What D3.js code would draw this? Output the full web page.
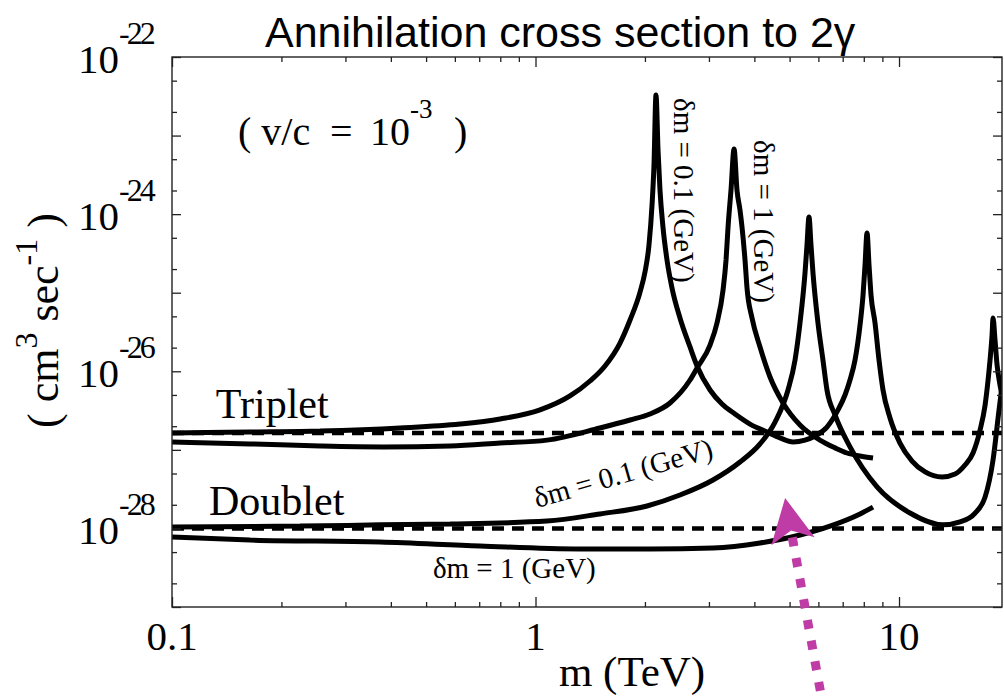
<!DOCTYPE html>
<html>
<head>
<meta charset="utf-8">
<script src="https://cdn.jsdelivr.net/npm/d3@7"></script>
<style>
  html, body { margin: 0; padding: 0; background: #ffffff; }
  svg { display: block; }
  text { white-space: pre; }
</style>
</head>
<body>
<svg id="chart" width="1004" height="697"></svg>
<script>
// ---- Data: annihilation cross section σv (cm^3/s) versus mass m (TeV) ----

// Triplet, δm = 0.1 GeV
const tripletDm01Mass = [0.1, 0.164, 0.2555, 0.424, 0.620, 0.799, 1.029, 1.244, 1.412, 1.553,
  1.708, 1.820, 1.939, 2.001, 2.052, 2.092, 2.118, 2.145, 2.173, 2.200,
  2.242, 2.300, 2.374, 2.497, 2.661, 2.782, 3.021, 3.259, 3.538, 3.891,
  4.334, 4.706, 5.110, 5.513, 5.873, 6.336, 6.795, 7.103, 7.331, 7.568,
  7.812, 7.962, 8.063, 8.166, 8.270, 8.375, 8.590, 8.810, 9.036, 9.446,
  10.06, 10.86, 11.80, 13.13, 14.26, 15.19, 15.98, 16.71, 17.25, 17.58,
  17.80, 18.03, 18.14, 18.37, 18.61, 18.96, 19.33];
const tripletDm01SigmaV = [1.64e-27, 1.69e-27, 1.74e-27, 1.90e-27, 2.13e-27, 2.47e-27, 3.22e-27, 4.85e-27, 7.52e-27, 1.17e-26,
  2.29e-26, 4.50e-26, 1.02e-25, 1.84e-25, 4.05e-25, 1.31e-24, 4.22e-24, 3.28e-23, 6.55e-24, 2.03e-24,
  6.86e-25, 2.61e-25, 1.15e-25, 4.77e-26, 2.04e-26, 1.17e-26, 5.78e-27, 3.83e-27, 2.86e-27, 2.13e-27,
  1.69e-27, 1.42e-27, 1.26e-27, 1.33e-27, 1.50e-27, 1.95e-27, 3.22e-27, 4.99e-27, 7.74e-27, 1.39e-26,
  3.88e-26, 9.35e-26, 2.25e-25, 5.75e-25, 2.25e-25, 9.35e-26, 4.12e-26, 1.39e-26, 5.78e-27, 2.54e-27,
  1.22e-27, 7.21e-28, 5.23e-28, 4.51e-28, 4.93e-28, 6.42e-28, 9.12e-28, 1.79e-27, 3.72e-27, 7.74e-27,
  1.39e-26, 2.90e-26, 4.77e-26, 2.50e-26, 1.20e-26, 6.69e-27, 4.31e-27];

// Triplet, δm = 1 GeV
const tripletDm1Mass = [0.1, 0.164, 0.2555, 0.3806, 0.582, 0.799, 1.0755, 1.504, 1.820, 2.065,
  2.344, 2.661, 2.782, 3.021, 3.157, 3.280, 3.343, 3.386, 3.450, 3.517,
  3.583, 3.652, 3.699, 3.770, 3.818, 3.941, 4.146, 4.417, 4.796, 5.341,
  6.061, 6.667, 7.193, 7.812, 8.482];
const tripletDm1SigmaV = [1.26e-27, 1.19e-27, 1.12e-27, 1.09e-27, 1.12e-27, 1.22e-27, 1.33e-27, 1.90e-27, 2.40e-27, 2.86e-27,
  3.95e-27, 7.74e-27, 1.10e-26, 2.16e-26, 4.12e-26, 1.08e-25, 2.61e-25, 6.86e-25, 2.03e-24, 6.75e-24,
  2.03e-24, 1.13e-24, 6.86e-25, 2.61e-25, 1.15e-25, 4.77e-26, 2.04e-26, 8.46e-27, 3.95e-27, 2.07e-27,
  1.33e-27, 1.06e-27, 9.12e-28, 8.35e-28, 7.88e-28];

// Doublet, δm = 0.1 GeV
const doubletDm01Mass = [0.1, 0.225, 0.3735, 0.582, 1.0755, 1.504, 2.027, 2.497, 3.078, 3.652,
  4.146, 4.560, 4.950, 5.175, 5.341, 5.513, 5.583, 5.654, 5.726, 5.799,
  5.985, 6.177, 6.336, 6.667, 7.331, 8.700, 10.72, 13.21, 14.72, 16.19,
  17.25, 18.14, 18.84, 19.45];
const doubletDm01SigmaV = [1.04e-28, 1.07e-28, 1.11e-28, 1.14e-28, 1.24e-28, 1.53e-28, 1.93e-28, 2.66e-28, 4.13e-28, 7.00e-28,
  1.19e-27, 2.26e-27, 5.78e-27, 1.39e-26, 4.12e-26, 1.78e-25, 4.05e-25, 9.20e-25, 4.05e-25, 1.78e-25,
  4.12e-26, 1.39e-26, 5.78e-27, 2.78e-27, 1.09e-27, 3.37e-28, 1.57e-28, 1.11e-28, 1.21e-28, 1.57e-28,
  2.51e-28, 7.43e-28, 3.22e-27, 1.04e-26];

// Doublet, δm = 1 GeV
const doubletDm1Mass = [0.1, 0.164, 0.3735, 0.7037, 1.326, 2.065, 3.078, 4.146, 5.341, 6.458, 7.812, 8.482];
const doubletDm1SigmaV = [7.78e-29, 7.12e-29, 6.72e-29, 5.97e-29, 5.47e-29, 5.47e-29, 5.63e-29, 6.52e-29, 8.25e-29, 1.07e-28, 1.53e-28, 1.87e-28];

// Perturbative (no enhancement) values, drawn dashed
const tripletTreeSigmaV = 1.64e-27;
const doubletTreeSigmaV = 1.0e-28;

// Axes
const massDomain = [0.1, 19.2];
const sigmaDomain = [1e-29, 1e-22];
const xTickValues = [0.1, 1, 10];
const xTickLabels = ["0.1", "1", "10"];
const yLabelExponents = ["-22", "-24", "-26", "-28"];

// Curve labels, placed at (m, σv)
const curveLabels = [
  { text: "δm = 0.1 (GeV)", m: 2.40, sv: 3.01e-23, angle: 90 },
  { text: "δm = 1 (GeV)",   m: 3.99, sv: 8.78e-24, angle: 90 },
  { text: "δm = 0.1 (GeV)", m: 1.01, sv: 1.82e-28, angle: -16 },
  { text: "δm = 1 (GeV)",   m: 0.522, sv: 2.34e-29, angle: 0 }
];
const groupLabels = [
  { text: "Triplet", m: 0.132, sv: 2.54e-27 },
  { text: "Doublet", m: 0.1264, sv: 1.48e-28 }
];
// Highlight arrow: tip and tail (m, σv)
const arrowTip = [4.86, 2.44e-28];
const arrowTail = [6.14, 6.55e-31];

// ---- Drawing ----
const serif = "'Liberation Serif', 'Times New Roman', Times, serif";
const sans = "'Liberation Sans', Arial, Helvetica, sans-serif";
const frame = { left: 172, top: 57, right: 1002, bottom: 607 };

const svg = d3.select("#chart");
const x = d3.scaleLog().domain(massDomain).range([frame.left, frame.right]);
const y = d3.scaleLog().domain(sigmaDomain).range([frame.bottom, frame.top]);

svg.append("defs").append("clipPath").attr("id", "plot-clip")
  .append("rect")
  .attr("x", frame.left).attr("y", frame.top)
  .attr("width", frame.right - frame.left).attr("height", frame.bottom - frame.top);

const plot = svg.append("g").attr("clip-path", "url(#plot-clip)");

// dashed reference levels
const flat = d3.line().x(d => x(d[0])).y(d => y(d[1]));
[tripletTreeSigmaV, doubletTreeSigmaV].forEach(v => {
  plot.append("path")
    .attr("d", flat([[massDomain[0], v], [massDomain[1], v]]))
    .attr("fill", "none").attr("stroke", "#000")
    .attr("stroke-width", 4.5).attr("stroke-dasharray", "12 8");
});

// enhanced cross-section curves
const curve = d3.line().x(d => x(d[0])).y(d => y(d[1])).curve(d3.curveMonotoneX);
const series = [
  [tripletDm01Mass, tripletDm01SigmaV],
  [tripletDm1Mass, tripletDm1SigmaV],
  [doubletDm01Mass, doubletDm01SigmaV],
  [doubletDm1Mass, doubletDm1SigmaV]
];
series.forEach(([m, sv]) => {
  plot.append("path")
    .attr("d", curve(d3.zip(m, sv)))
    .attr("fill", "none").attr("stroke", "#000")
    .attr("stroke-width", 5)
    .attr("stroke-linejoin", "bevel");
});

// frame
svg.append("rect")
  .attr("x", frame.left).attr("y", frame.top)
  .attr("width", frame.right - frame.left).attr("height", frame.bottom - frame.top)
  .attr("fill", "none").attr("stroke", "#222").attr("stroke-width", 1.4);

// ticks (all pointing into the frame)
const isDecade = v => Math.abs(Math.log10(v) - Math.round(Math.log10(v))) < 1e-6;
const xMinor = x.ticks().filter(v => !isDecade(v));
const xMajor = x.ticks().filter(isDecade);
const yAll = y.ticks().filter(v => {
  const mant = Math.round(v / Math.pow(10, Math.floor(Math.log10(v) + 1e-9)));
  return mant === 1 || mant === 2 || mant === 5;
});
const yMajor = yAll.filter(isDecade);
const yMinor = yAll.filter(v => !isDecade(v));

function tickAxis(axisFn, scale, values, size, tx, ty) {
  const g = svg.append("g").attr("transform", `translate(${tx},${ty})`)
    .call(axisFn(scale).tickValues(values).tickSize(size).tickFormat(() => ""));
  g.select(".domain").remove();
  g.selectAll(".tick line").attr("stroke", "#222").attr("stroke-width", 1.3);
}
tickAxis(d3.axisBottom, x, xMajor, -10, 0, frame.bottom);
tickAxis(d3.axisBottom, x, xMinor, -5, 0, frame.bottom);
tickAxis(d3.axisTop, x, xMajor, -10, 0, frame.top);
tickAxis(d3.axisTop, x, xMinor, -5, 0, frame.top);
tickAxis(d3.axisLeft, y, yMajor, -9, frame.left, 0);
tickAxis(d3.axisLeft, y, yMinor, -5, frame.left, 0);
tickAxis(d3.axisRight, y, yMajor, -9, frame.right, 0);
tickAxis(d3.axisRight, y, yMinor, -5, frame.right, 0);

// x tick labels
svg.append("g").selectAll("text").data(xTickValues).join("text")
  .attr("x", d => x(d)).attr("y", frame.bottom + 43)
  .attr("text-anchor", "middle")
  .attr("font-family", serif).attr("font-size", 41)
  .text((d, i) => xTickLabels[i]);

// y tick labels: 10^exp, exponent set tight against the mantissa
const yLab = svg.append("g").selectAll("text").data(yLabelExponents).join("text")
  .attr("x", 78).attr("y", e => y(Math.pow(10, +e)) + 16)
  .attr("font-family", serif).attr("font-size", 41);
yLab.append("tspan").text("10");
yLab.append("tspan").attr("dy", -29).attr("font-size", 32)
  .attr("letter-spacing", -3).text(e => e);

// title
svg.append("text").attr("x", 265).attr("y", 47)
  .attr("font-family", sans).attr("font-size", 43)
  .text("Annihilation cross section to 2γ");

// x axis title
svg.append("text").attr("x", 632).attr("y", 686)
  .attr("text-anchor", "middle").attr("font-family", serif).attr("font-size", 43)
  .text("m (TeV)");

// y axis title
const yt = svg.append("text")
  .attr("transform", "translate(58,428) rotate(-90)")
  .attr("font-family", serif).attr("font-size", 44);
yt.append("tspan").text("( cm");
yt.append("tspan").attr("dy", -21).attr("font-size", 32).text("3");
yt.append("tspan").attr("dy", 21).text(" sec");
yt.append("tspan").attr("dy", -21).attr("font-size", 32).text("-1");
yt.append("tspan").attr("dy", 21).text(" )");

// velocity note
const vx = x(0.1519), vy = y(7.59e-24);
const vc = svg.append("text").attr("x", vx).attr("y", vy)
  .attr("font-family", serif).attr("font-size", 40);
vc.append("tspan").text("( v/c");
vc.append("tspan").attr("x", vx + 92).text("=");
vc.append("tspan").attr("x", vx + 132).text("10");
vc.append("tspan").attr("x", vx + 172).attr("dy", -27).attr("font-size", 27).text("-3");
vc.append("tspan").attr("x", vx + 216).attr("dy", 27).text(")");

// group labels
svg.append("g").selectAll("text").data(groupLabels).join("text")
  .attr("x", d => x(d.m)).attr("y", d => y(d.sv))
  .attr("font-family", serif).attr("font-size", 42)
  .text(d => d.text);

// curve labels
svg.append("g").selectAll("text").data(curveLabels).join("text")
  .attr("transform", d => `translate(${x(d.m)},${y(d.sv)}) rotate(${d.angle})`)
  .attr("font-family", serif).attr("font-size", 29)
  .text(d => d.text);

// magenta arrow
const T = [x(arrowTip[0]), y(arrowTip[1])];
const S = [x(arrowTail[0]), y(arrowTail[1])];
const len = Math.hypot(T[0] - S[0], T[1] - S[1]);
const u = [(T[0] - S[0]) / len, (T[1] - S[1]) / len];
const n = [-u[1], u[0]];
const headLen = 44, headHalf = 22, notch = 33;
const base = [T[0] - headLen * u[0], T[1] - headLen * u[1]];
const magenta = "#BF3BA5";
svg.append("path")
  .attr("d", d3.line()([[base[0] + 4 * u[0], base[1] + 4 * u[1]], S]))
  .attr("stroke", magenta).attr("stroke-width", 9)
  .attr("stroke-dasharray", "9 12").attr("fill", "none");
svg.append("path")
  .attr("d", d3.line()([
    T,
    [base[0] + headHalf * n[0], base[1] + headHalf * n[1]],
    [T[0] - notch * u[0], T[1] - notch * u[1]],
    [base[0] - headHalf * n[0], base[1] - headHalf * n[1]]
  ]) + "Z")
  .attr("fill", magenta);
</script>
</body>
</html>
